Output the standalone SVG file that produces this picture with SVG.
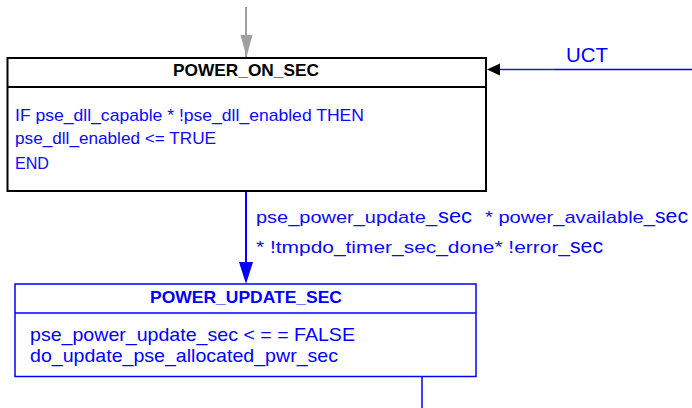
<svg xmlns="http://www.w3.org/2000/svg" width="692" height="408" viewBox="0 0 692 408">
<style>
.title{font-family:"Liberation Sans",Arial,sans-serif;font-weight:bold;font-size:17px;text-anchor:middle}
.cal{font-family:"Liberation Sans",Arial,sans-serif;font-size:17px;fill:#0a0aff}
.ar{font-family:"Liberation Sans",Arial,sans-serif;font-size:19px;fill:#0000ff}
.sec{font-family:"Liberation Sans",Arial,sans-serif;font-size:21px;fill:#0000ff}
</style>
<defs>
<marker id="ahGray" markerUnits="userSpaceOnUse" markerWidth="14" markerHeight="24" refX="12" refY="7" orient="auto" viewBox="0 0 24 14">
<path d="M0,0 L22,7 L0,14 z" fill="#a0a0a0"/>
</marker>
<marker id="ahBlue" markerUnits="userSpaceOnUse" markerWidth="22" markerHeight="16" refX="21" refY="7" orient="auto" viewBox="0 0 22 14">
<path d="M0,0 L21,7 L0,14 z" fill="#0000ff"/>
</marker>
<marker id="ahBlack" markerUnits="userSpaceOnUse" markerWidth="14" markerHeight="12" refX="13" refY="6" orient="auto" viewBox="0 0 14 12">
<path d="M0,0 L13,6 L0,12 z" fill="#000"/>
</marker>
</defs>
<g id="connectors">
<line x1="246" y1="7" x2="246" y2="57" stroke="#a0a0a0" stroke-width="2"/>
<path d="M240.5,35 L252.5,35 L246.5,57 z" fill="#a0a0a0"/>
<line x1="692" y1="69.5" x2="555" y2="69.5" stroke="#0000ff" stroke-width="1.5"/>
<line x1="555" y1="69.5" x2="500" y2="69.5" stroke="#2222b0" stroke-width="1.5"/>
<path d="M487,69.5 L500,63.5 L500,75.5 z" fill="#000"/>
<line x1="246" y1="191" x2="246" y2="263" stroke="#0000ff" stroke-width="2"/>
<path d="M239,262 L253,262 L246,284 z" fill="#0000ff"/>
<line x1="422" y1="374" x2="422" y2="408" stroke="#0000ff" stroke-width="1.5"/>
<text class="sec" x="566" y="62" textLength="42" lengthAdjust="spacingAndGlyphs">UCT</text>
<text class="cal" x="256" y="223" textLength="181" lengthAdjust="spacingAndGlyphs">pse_power_update_</text>
<text class="sec" x="438" y="223" textLength="34" lengthAdjust="spacingAndGlyphs">sec</text>
<text class="cal" x="485" y="223" textLength="170" lengthAdjust="spacingAndGlyphs">* power_available_</text>
<text class="sec" x="655" y="223" textLength="33" lengthAdjust="spacingAndGlyphs">sec</text>
<text class="cal" x="256" y="253" textLength="314" lengthAdjust="spacingAndGlyphs">* !tmpdo_timer_sec_done* !error_</text>
<text class="sec" x="570" y="253" textLength="33" lengthAdjust="spacingAndGlyphs">sec</text>
</g>
<g id="power_on_sec">
<rect x="7.5" y="58" width="478.5" height="133" fill="#fff" stroke="#000" stroke-width="2"/>
<line x1="7.5" y1="87" x2="486" y2="87" stroke="#000" stroke-width="2"/>
<text class="title" x="246" y="76" textLength="146" lengthAdjust="spacingAndGlyphs" fill="#000">POWER_ON_SEC</text>
<text class="cal" x="15" y="121" textLength="349" lengthAdjust="spacingAndGlyphs">IF pse_dll_capable * !pse_dll_enabled THEN</text>
<text class="cal" x="15" y="144" textLength="201" lengthAdjust="spacingAndGlyphs">pse_dll_enabled &lt;= TRUE</text>
<text class="cal" x="15" y="169" textLength="34" lengthAdjust="spacingAndGlyphs">END</text>
</g>
<g id="power_update_sec">
<rect x="15" y="284" width="461" height="92.5" fill="#fff" stroke="#0000ff" stroke-width="1.5"/>
<line x1="15" y1="313" x2="476" y2="313" stroke="#0000ff" stroke-width="1.5"/>
<text class="title" x="246" y="303" textLength="192" lengthAdjust="spacingAndGlyphs" fill="#0000ff">POWER_UPDATE_SEC</text>
<text class="ar" x="30" y="341" textLength="325" lengthAdjust="spacingAndGlyphs">pse_power_update_sec &lt; = = FALSE</text>
<text class="ar" x="30" y="362" textLength="308" lengthAdjust="spacingAndGlyphs">do_update_pse_allocated_pwr_sec</text>
</g>
</svg>
